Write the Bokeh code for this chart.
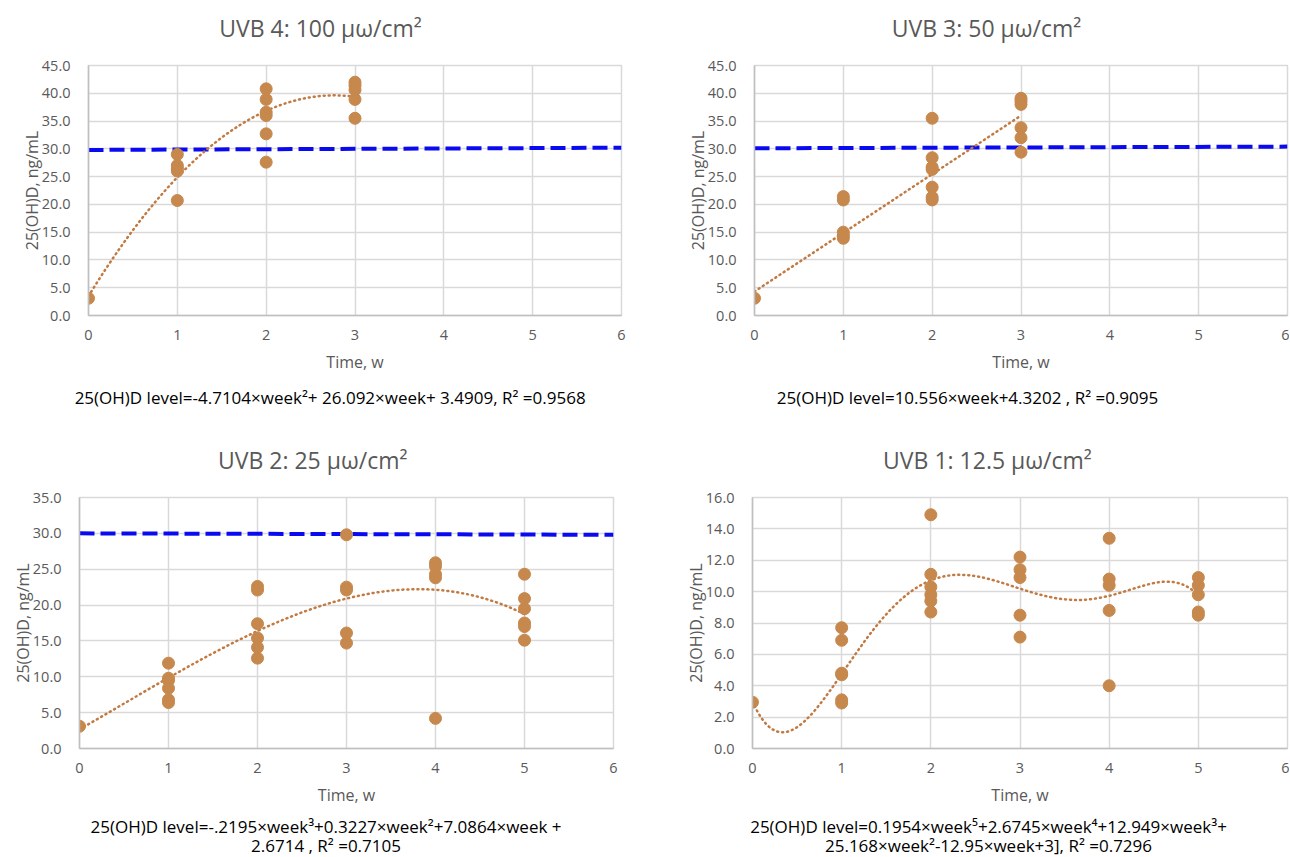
from bokeh.plotting import figure
from bokeh.models import Range1d, FixedTicker, PrintfTickFormatter, LinearAxis, ColumnDataSource
from bokeh.layouts import column, row
from bokeh.embed import file_html
from bokeh.resources import INLINE
import numpy as np

FONT = "Open Sans"
GREY_TXT = "#595959"
DOT = "#C6884D"
TREND = "#C27A42"
BLUE = "#0A0AF0"

# ---------------- data ----------------
uvb4_weeks = [0, 1, 1, 1, 1, 1, 2, 2, 2, 2, 2, 2, 3, 3, 3, 3, 3]
uvb4_vals = [3.1, 29.0, 27.0, 26.5, 26.0, 20.7, 40.8, 38.9, 36.6, 36.0, 32.7, 27.6,
             42.0, 41.4, 40.6, 38.9, 35.5]
uvb4_coef = [-4.7104, 26.092, 3.4909]
uvb4_thr = [29.8, 30.2]

uvb3_weeks = [0, 1, 1, 1, 1, 1, 2, 2, 2, 2, 2, 2, 2, 3, 3, 3, 3, 3, 3]
uvb3_vals = [3.1, 21.4, 20.8, 15.0, 14.4, 13.9, 35.5, 28.4, 26.7, 26.3, 23.1, 21.3, 20.8,
             39.1, 38.6, 38.0, 33.8, 32.0, 29.4]
uvb3_coef = [10.556, 4.3202]
uvb3_thr = [30.1, 30.4]

uvb2_weeks = [0, 1, 1, 1, 1, 1, 1, 2, 2, 2, 2, 2, 2, 3, 3, 3, 3, 3,
              4, 4, 4, 4, 4, 5, 5, 5, 5, 5, 5]
uvb2_vals = [3.1, 11.9, 9.8, 9.5, 8.4, 6.8, 6.4, 22.6, 22.1, 17.4, 15.4, 14.1, 12.6,
             29.8, 22.5, 22.1, 16.1, 14.7, 25.9, 25.4, 24.3, 23.8, 4.2,
             24.3, 20.9, 19.5, 17.5, 17.0, 15.1]
uvb2_coef = [-0.2195, 0.3227, 7.0864, 2.6714]
uvb2_thr = [30.0, 29.8]

uvb1_weeks = [0, 1, 1, 1, 1, 1, 1, 2, 2, 2, 2, 2, 2, 3, 3, 3, 3, 3,
              4, 4, 4, 4, 4, 5, 5, 5, 5, 5]
uvb1_vals = [2.95, 7.7, 6.9, 4.8, 4.7, 3.1, 2.9, 14.9, 11.1, 10.3, 9.8, 9.4, 8.7,
             12.2, 11.4, 10.9, 8.5, 7.1, 13.4, 10.8, 10.4, 8.8, 4.0,
             10.9, 10.4, 9.8, 8.7, 8.5]
uvb1_coef = [-0.1954, 2.6745, -12.949, 25.168, -12.95, 3.0]

x_ticks = [0, 1, 2, 3, 4, 5, 6]


def text_axis(p, side, xpos, text, size, color, standoff):
    ax = LinearAxis(ticker=FixedTicker(ticks=[xpos]),
                    major_label_overrides={xpos: text})
    ax.axis_line_color = None
    ax.major_tick_line_color = None
    ax.minor_tick_line_color = None
    ax.major_tick_out = 0
    ax.major_tick_in = 0
    ax.major_label_standoff = standoff
    ax.major_label_text_font = FONT
    ax.major_label_text_font_size = size
    ax.major_label_text_color = color
    p.add_layout(ax, side)


def panel(title, weeks, vals, coef, fit_end, thr, ymax, ystep, eq_lines,
          fw, fh, bl, br, bt, bb, title_x, eq_x, eq_standoffs):
    p = figure(title=None, output_backend="svg", toolbar_location=None,
               frame_width=fw, frame_height=fh,
               min_border_left=bl, min_border_right=br,
               min_border_top=bt, min_border_bottom=bb,
               x_range=Range1d(0, 6), y_range=Range1d(0, ymax),
               background_fill_color="white", border_fill_color="white")
    p.outline_line_color = "#D9D9D9"
    p.outline_line_width = 1.5
    p.xgrid.grid_line_color = "#D9D9D9"
    p.ygrid.grid_line_color = "#D9D9D9"
    p.xgrid.grid_line_width = 1.5
    p.ygrid.grid_line_width = 1.5

    p.xaxis.ticker = FixedTicker(ticks=x_ticks)
    p.yaxis.ticker = FixedTicker(ticks=list(np.arange(0, ymax + 0.001, ystep)))
    p.yaxis.formatter = PrintfTickFormatter(format="%.1f")
    for ax in (p.xaxis, p.yaxis):
        ax.major_tick_line_color = None
        ax.minor_tick_line_color = None
        ax.major_tick_out = 0
        ax.major_tick_in = 0
        ax.axis_line_color = "#BFBFBF"
        ax.axis_line_width = 1.5
        ax.major_label_text_font = FONT
        ax.major_label_text_font_size = "14.5px"
        ax.major_label_text_color = GREY_TXT
        ax.axis_label_text_font = FONT
        ax.axis_label_text_font_size = "16px"
        ax.axis_label_text_font_style = "normal"
        ax.axis_label_text_color = GREY_TXT
    p.xaxis.axis_label = "Time, w"
    p.yaxis.axis_label = "25(OH)D, ng/mL"
    p.xaxis.major_label_standoff = 14
    p.xaxis.axis_label_standoff = 8
    p.yaxis.major_label_standoff = 18
    p.yaxis.axis_label_standoff = -4

    text_axis(p, "above", title_x, title, "23px", GREY_TXT, 22)
    for line, so in zip(eq_lines, eq_standoffs):
        text_axis(p, "below", eq_x, line, "17px", "black", so)

    if thr is not None:
        p.line([0, 6], thr, line_color=BLUE, line_width=4, line_dash="15 6")

    xs = np.linspace(0, fit_end, 200)
    ys = np.polyval(coef, xs)
    p.line(xs, ys, line_color=TREND, line_width=2.5, line_dash="1 4", line_cap="round")

    src = ColumnDataSource(dict(x=weeks, y=vals))
    p.scatter("x", "y", source=src, size=12, fill_color=DOT, line_color=DOT)
    return p


p1 = panel("UVB 4: 100 \u03bc\u03c9/cm\u00b2", uvb4_weeks, uvb4_vals, uvb4_coef, 3, uvb4_thr,
           45, 5,
           ["25(OH)D level=-4.7104\u00d7week\u00b2+ 26.092\u00d7week+ 3.4909, R\u00b2 =0.9568"],
           533, 250, 88, 53, 65, 115, 2.612, 2.72, [10])
p2 = panel("UVB 3: 50 \u03bc\u03c9/cm\u00b2", uvb3_weeks, uvb3_vals, uvb3_coef, 3, uvb3_thr,
           45, 5,
           ["25(OH)D level=10.556\u00d7week+4.3202 , R\u00b2 =0.9095"],
           533, 250, 80, 2, 65, 115, 2.612, 2.398, [10])
p3 = panel("UVB 2: 25 \u03bc\u03c9/cm\u00b2", uvb2_weeks, uvb2_vals, uvb2_coef, 5, uvb2_thr,
           35, 5,
           ["25(OH)D level=-.2195\u00d7week\u00b3+0.3227\u00d7week\u00b2+7.0864\u00d7week +",
            "2.6714 , R\u00b2 =0.7105"],
           534, 251, 79, 61, 67, 109, 2.62, 2.77, [6, -7])
p4 = panel("UVB 1: 12.5 \u03bc\u03c9/cm\u00b2", uvb1_weeks, uvb1_vals, uvb1_coef, 5, None,
           16, 2,
           ["25(OH)D level=0.1954\u00d7week\u2075+2.6745\u00d7week\u2074+12.949\u00d7week\u00b3+",
            "25.168\u00d7week\u00b2-12.95\u00d7week+3], R\u00b2 =0.7296"],
           535, 251, 78, 2, 67, 109, 2.635, 2.647, [6, -7])

layout = column(row(p1, p2), row(p3, p4))
open("out.html", "w").write(file_html(layout, INLINE))
